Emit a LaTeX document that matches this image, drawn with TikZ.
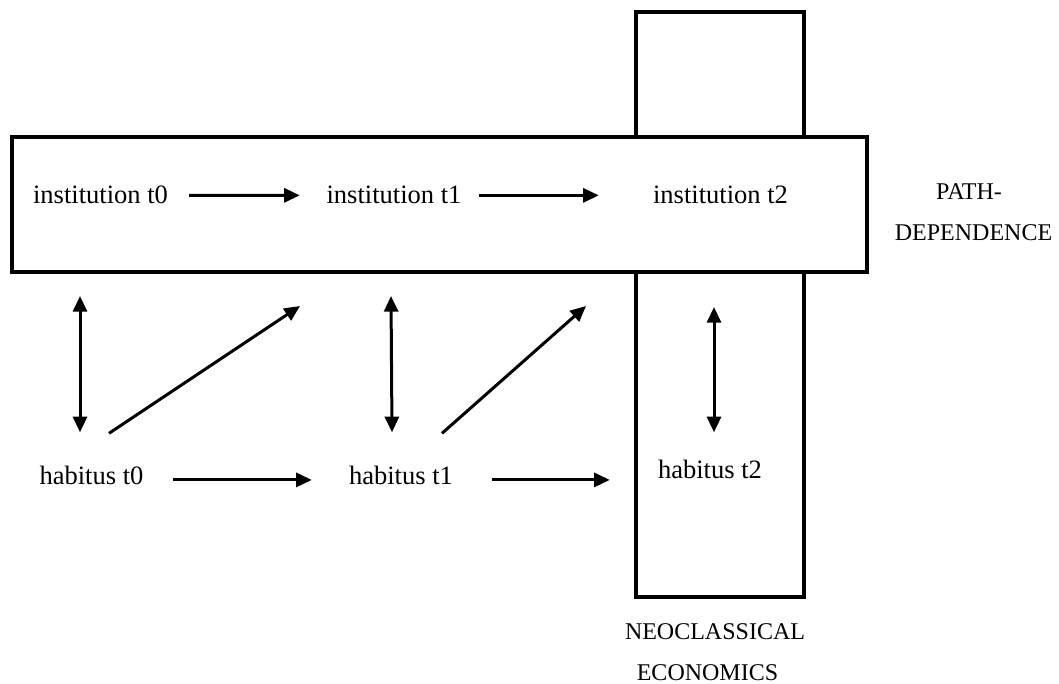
\documentclass[tikz,border=0pt]{standalone}
\usepackage{fontspec}
\setmainfont{Liberation Serif}
\usetikzlibrary{arrows.meta,calc}
\begin{document}
\begin{tikzpicture}[x=0.75pt,y=-0.75pt,
  frame/.style={draw,line width=3pt,rectangle,inner sep=0pt,outer sep=0pt},
  lbl/.style={inner sep=0pt,anchor=base,font=\fontsize{19.9}{24}\selectfont},
  caplbl/.style={inner sep=0pt,anchor=base,font=\fontsize{18}{24}\selectfont},
  arr/.style={line width=2.25pt,-{Triangle[length=11.75pt,width=10.5pt]}},
  twoway/.style={line width=2.25pt,{Triangle[length=11.75pt,width=10.5pt]}-{Triangle[length=11.75pt,width=10.5pt]}}]
\useasboundingbox (0,0) rectangle (1059,684);

% vertical column (neoclassical economics), then the path-dependence band over it
\node[frame,minimum width=126pt,minimum height=438.75pt] (vbox) at (720,304.5) {};
\node[frame,fill=white,minimum width=641.25pt,minimum height=101.25pt] (hbox) at (439.5,204.5) {};

% labels
\node[lbl] (i0) at (100.5,204) {institution t0};
\node[lbl] (i1) at (394,204) {institution t1};
\node[lbl] (i2) at (720.5,204) {institution t2};
\node[lbl] (h0) at (91.5,484) {habitus t0};
\node[lbl] (h1) at (401,484) {habitus t1};
\node[lbl] (h2) at (710,478) {habitus t2};
\node[caplbl] (pd1) at (969,200) {PATH-};
\node[caplbl] (pd2) at (973.5,240) {DEPENDENCE};
\node[caplbl] (ne1) at (715,639) {NEOCLASSICAL};
\node[caplbl] (ne2) at (707.5,680) {ECONOMICS};

% institutions over time
\draw[arr] ($(i0.east)+(21,0)$) -- ($(i1.west)+(-26.5,0)$);
\draw[arr] ($(i1.east)+(17.5,0)$) -- ($(i2.west)+(-54,0)$);

% habitus over time
\draw[arr] ($(h0.east)+(29.5,5)$) -- ($(h1.west)+(-37,5)$);
\draw[arr] ($(h1.east)+(39,5)$) -- ($(h2.west)+(-48,11)$);

% habitus <-> institution
\draw[twoway] ($(h0.north |- hbox.south)+(-11.5,24)$) -- ($(h0.north)+(-11.5,-33)$);
\draw[twoway] ($(h1.north |- hbox.south)+(-10,24)$) -- ($(h1.north)+(-9,-33)$);
\draw[twoway] ($(h2.north |- hbox.south)+(4,35)$) -- ($(h2.north)+(4,-27)$);

% habitus shaping the next institution
\draw[arr] ($(h0.north)+(17.5,-32)$) -- ($(i1.south |- hbox.south)+(-94,34)$);
\draw[arr] ($(h1.north)+(41,-32)$) -- ($(i2.south |- hbox.south)+(-134.5,34)$);
\end{tikzpicture}
\end{document}
